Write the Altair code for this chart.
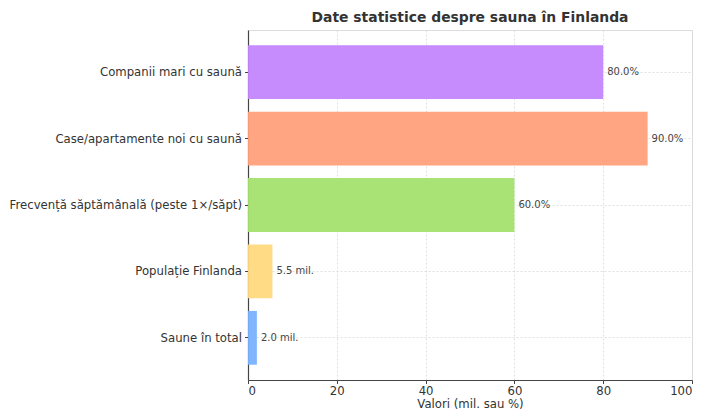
import altair as alt
import pandas as pd

categories = [
    "Companii mari cu saună",
    "Case/apartamente noi cu saună",
    "Frecvență săptămânală (peste 1×/săpt)",
    "Populație Finlanda",
    "Saune în total",
]
values = [80.0, 90.0, 60.0, 5.5, 2.0]
value_labels = ["80.0%", "90.0%", "60.0%", "5.5 mil.", "2.0 mil."]
colors = ["#c385fd", "#ffa07a", "#a4e06e", "#ffd97f", "#78b2fe"]
x_ticks = [0, 20, 40, 60, 80, 100]

df = pd.DataFrame({"cat": categories, "val": values, "lab": value_labels, "col": colors})

FONT = "DejaVu Sans"

y_enc = alt.Y(
    "cat:N",
    sort=categories,
    title=None,
    scale=alt.Scale(paddingInner=0.19, paddingOuter=0.23),
    axis=alt.Axis(
        labelFont=FONT, labelFontSize=11.7, labelColor="#333333",
        domainColor="#444444", domainWidth=1.2, bandPosition=0.5, tickExtra=False,
        tickColor="#444444", tickSize=3.5, labelPadding=3,
        grid=True, gridColor="#d8d8d8", gridDash=[2, 2], gridWidth=0.8,
        labelLimit=400,
    ),
)
x_enc = alt.X(
    "val:Q",
    title="Valori (mil. sau %)",
    scale=alt.Scale(domain=[0, 100], nice=False),
    axis=alt.Axis(
        values=x_ticks, labelFont=FONT, labelFontSize=11.7, labelColor="#333333",
        titleFont=FONT, titleFontSize=11.7, titleFontWeight="normal", titleColor="#333333",
        titlePadding=1, domainColor="#444444", domainWidth=1.2,
        tickColor="#444444", tickSize=3.5, labelPadding=2,
        grid=True, gridColor="#d8d8d8", gridDash=[2, 2], gridWidth=0.8,
    ),
)

bars = alt.Chart(df).mark_bar(opacity=0.95).encode(
    x=x_enc,
    y=y_enc,
    color=alt.Color("col:N", scale=None, legend=None),
)

text = alt.Chart(df).mark_text(
    align="left", baseline="middle", dx=4, font=FONT, fontSize=10, color="#444444"
).encode(
    x=x_enc,
    y=y_enc,
    text="lab:N",
)

chart = (
    alt.layer(bars, text)
    .properties(
        width=444,
        height=350,
        title=alt.TitleParams(
            "Date statistice despre sauna în Finlanda",
            font=FONT, fontSize=13.9, fontWeight="bold", color="#333333",
            anchor="middle", offset=5,
        ),
        autosize=alt.AutoSizeParams(type="none"),
        padding={"left": 240, "top": 22, "right": 2, "bottom": 30},
    )
    .configure_view(strokeWidth=0)
    .configure(background="white")
)

chart.save("out.html", embed_options={"renderer": "svg", "actions": False})
